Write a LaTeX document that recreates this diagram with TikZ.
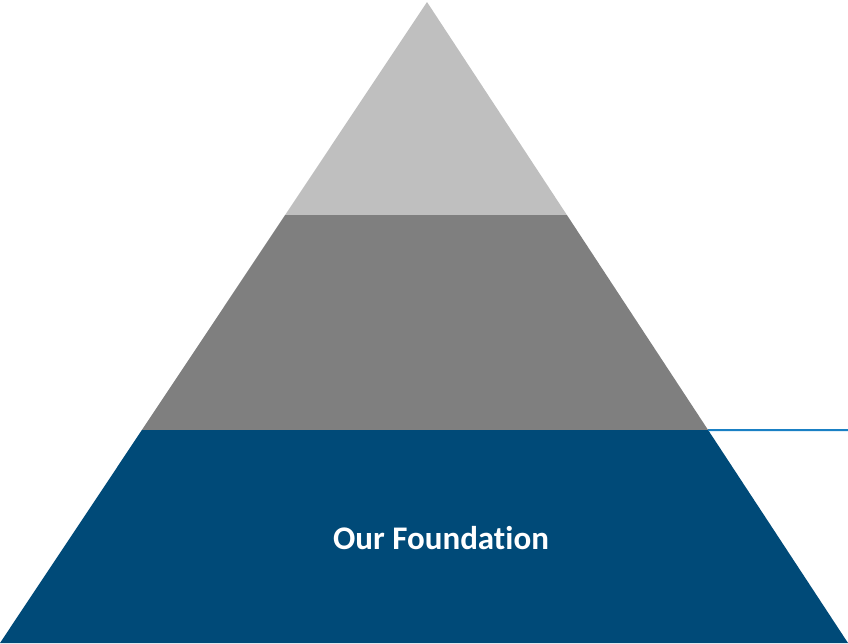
\documentclass[tikz,border=0pt]{standalone}
\usepackage{fontspec}
\setmainfont{Carlito}[Ligatures=NoCommon]
\usepackage{tikz}
\usetikzlibrary{calc,positioning}
\definecolor{tiertop}{HTML}{BFBFBF}
\definecolor{tiermid}{HTML}{7F7F7F}
\definecolor{tierbase}{HTML}{004A78}
\definecolor{calloutblue}{HTML}{1A80C4}
\newcommand{\tierlabel}[1]{\bfseries\fontsize{33}{36}\selectfont #1}

\begin{document}
\begin{tikzpicture}[
    x=1pt, y=-1pt,
    tier/.style={draw=none},
    callout/.style={calloutblue, line width=2pt},
    tiertext/.style={text=white, inner sep=0pt, align=center}
  ]
    \useasboundingbox (0,0) rectangle (848,643);
    % pyramid corners
    \coordinate (apex) at (427,2);
    \coordinate (bl) at (0,643);
    \coordinate (br) at (848,643);
    \coordinate (t1l) at ($(apex)!0.3323!(bl)$);
    \coordinate (t1r) at ($(apex)!0.3323!(br)$);
    \coordinate (t2l) at ($(apex)!0.6677!(bl)$);
    \coordinate (t2r) at ($(apex)!0.6677!(br)$);
    % tiers
    \fill[tier, tiertop] (apex) -- (t1r) -- (t1l) -- cycle;
    \fill[tier, tiermid] (t1l) -- (t1r) -- (t2r) -- (t2l) -- cycle;
    \fill[tier, tierbase] (t2l) -- (t2r) -- (br) -- (bl) -- cycle;
    % label
    \node[tiertext] (found) at (441,538) {\tierlabel{Our Foundation}};
    % callout line
    \coordinate (lineend) at (848,430);
    \draw[callout] (t2r) -- (lineend);
\end{tikzpicture}
\end{document}
